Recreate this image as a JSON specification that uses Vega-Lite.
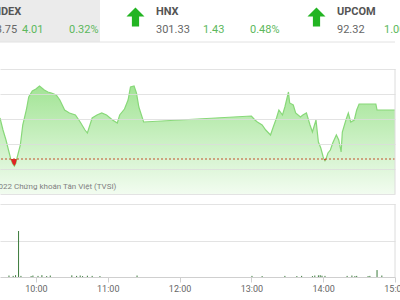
{
  "$schema": "https://vega.github.io/schema/vega-lite/v6.json",
  "width": 395,
  "height": 277,
  "autosize": {"type": "none"},
  "padding": {"left": 0, "top": 0, "right": 5, "bottom": 23},
  "background": "white",
  "config": {"view": {"stroke": null}, "font": "Roboto"},
  "datasets": {
    "quotes": [
      {"index": "VNINDEX", "value": "1,253.75", "change": "4.01", "pct": "0.32%"},
      {"index": "HNX", "value": "301.33", "change": "1.43", "pct": "0.48%"},
      {"index": "UPCOM", "value": "92.32", "change": "1.00", "pct": "1.10%"}
    ],
    "price": [
      {"time": "2022-01-05T09:30:00", "price": 1253.08},
      {"time": "2022-01-05T09:32:30", "price": 1252.12},
      {"time": "2022-01-05T09:35:00", "price": 1251.32},
      {"time": "2022-01-05T09:37:30", "price": 1250.36},
      {"time": "2022-01-05T09:39:00", "price": 1249.8},
      {"time": "2022-01-05T09:40:30", "price": 1249.45},
      {"time": "2022-01-05T09:42:00", "price": 1249.24},
      {"time": "2022-01-05T09:43:15", "price": 1249.45},
      {"time": "2022-01-05T09:44:00", "price": 1249.8},
      {"time": "2022-01-05T09:47:00", "price": 1250.92},
      {"time": "2022-01-05T09:49:00", "price": 1252.52},
      {"time": "2022-01-05T09:52:00", "price": 1253.72},
      {"time": "2022-01-05T09:54:00", "price": 1254.76},
      {"time": "2022-01-05T09:57:00", "price": 1255.24},
      {"time": "2022-01-05T10:00:00", "price": 1255.4},
      {"time": "2022-01-05T10:03:00", "price": 1255.64},
      {"time": "2022-01-05T10:07:00", "price": 1255.32},
      {"time": "2022-01-05T10:10:00", "price": 1255.16},
      {"time": "2022-01-05T10:13:00", "price": 1255.08},
      {"time": "2022-01-05T10:17:00", "price": 1254.92},
      {"time": "2022-01-05T10:20:00", "price": 1254.52},
      {"time": "2022-01-05T10:24:00", "price": 1253.72},
      {"time": "2022-01-05T10:28:00", "price": 1253.48},
      {"time": "2022-01-05T10:33:00", "price": 1253.32},
      {"time": "2022-01-05T10:37:00", "price": 1252.76},
      {"time": "2022-01-05T10:41:00", "price": 1252.12},
      {"time": "2022-01-05T10:43:00", "price": 1251.88},
      {"time": "2022-01-05T10:47:00", "price": 1253.08},
      {"time": "2022-01-05T10:51:00", "price": 1253.32},
      {"time": "2022-01-05T10:55:00", "price": 1253.48},
      {"time": "2022-01-05T10:59:00", "price": 1253.32},
      {"time": "2022-01-05T11:04:00", "price": 1252.92},
      {"time": "2022-01-05T11:08:00", "price": 1252.68},
      {"time": "2022-01-05T11:10:00", "price": 1253.32},
      {"time": "2022-01-05T11:14:00", "price": 1253.8},
      {"time": "2022-01-05T11:17:00", "price": 1254.52},
      {"time": "2022-01-05T11:19:00", "price": 1255.56},
      {"time": "2022-01-05T11:22:00", "price": 1255.64},
      {"time": "2022-01-05T11:24:00", "price": 1255.08},
      {"time": "2022-01-05T11:26:00", "price": 1253.96},
      {"time": "2022-01-05T11:30:00", "price": 1252.76},
      {"time": "2022-01-05T13:00:00", "price": 1253.24},
      {"time": "2022-01-05T13:03:00", "price": 1252.92},
      {"time": "2022-01-05T13:05:00", "price": 1252.76},
      {"time": "2022-01-05T13:09:00", "price": 1252.52},
      {"time": "2022-01-05T13:12:00", "price": 1252.12},
      {"time": "2022-01-05T13:16:00", "price": 1251.72},
      {"time": "2022-01-05T13:18:00", "price": 1252.28},
      {"time": "2022-01-05T13:21:00", "price": 1253.08},
      {"time": "2022-01-05T13:23:00", "price": 1253.72},
      {"time": "2022-01-05T13:26:00", "price": 1253.32},
      {"time": "2022-01-05T13:28:00", "price": 1253.96},
      {"time": "2022-01-05T13:31:00", "price": 1255.16},
      {"time": "2022-01-05T13:32:00", "price": 1254.28},
      {"time": "2022-01-05T13:35:00", "price": 1254.12},
      {"time": "2022-01-05T13:37:00", "price": 1253.48},
      {"time": "2022-01-05T13:41:00", "price": 1253.16},
      {"time": "2022-01-05T13:43:00", "price": 1253.32},
      {"time": "2022-01-05T13:46:00", "price": 1253.48},
      {"time": "2022-01-05T13:49:00", "price": 1252.52},
      {"time": "2022-01-05T13:51:00", "price": 1251.96},
      {"time": "2022-01-05T13:54:00", "price": 1252.92},
      {"time": "2022-01-05T13:56:00", "price": 1251.16},
      {"time": "2022-01-05T13:58:00", "price": 1250.68},
      {"time": "2022-01-05T14:00:00", "price": 1249.96},
      {"time": "2022-01-05T14:00:40", "price": 1249.8},
      {"time": "2022-01-05T14:01:30", "price": 1249.66},
      {"time": "2022-01-05T14:02:20", "price": 1249.8},
      {"time": "2022-01-05T14:04:00", "price": 1250.28},
      {"time": "2022-01-05T14:06:00", "price": 1250.52},
      {"time": "2022-01-05T14:08:00", "price": 1251.08},
      {"time": "2022-01-05T14:11:00", "price": 1251.72},
      {"time": "2022-01-05T14:13:00", "price": 1251.32},
      {"time": "2022-01-05T14:15:00", "price": 1250.36},
      {"time": "2022-01-05T14:16:00", "price": 1251.96},
      {"time": "2022-01-05T14:19:00", "price": 1252.92},
      {"time": "2022-01-05T14:21:00", "price": 1253.48},
      {"time": "2022-01-05T14:23:00", "price": 1252.76},
      {"time": "2022-01-05T14:26:00", "price": 1252.92},
      {"time": "2022-01-05T14:28:00", "price": 1253.72},
      {"time": "2022-01-05T14:30:00", "price": 1254.2},
      {"time": "2022-01-05T14:44:00", "price": 1254.2},
      {"time": "2022-01-05T14:45:00", "price": 1253.72},
      {"time": "2022-01-05T15:00:00", "price": 1253.72}
    ],
    "volume": [
      {"time": "2022-01-05T09:37:30", "vol": 40},
      {"time": "2022-01-05T09:41:00", "vol": 30},
      {"time": "2022-01-05T09:43:00", "vol": 50},
      {"time": "2022-01-05T09:45:30", "vol": 1260},
      {"time": "2022-01-05T09:47:30", "vol": 30},
      {"time": "2022-01-05T09:56:00", "vol": 25},
      {"time": "2022-01-05T09:57:30", "vol": 40},
      {"time": "2022-01-05T10:01:45", "vol": 30},
      {"time": "2022-01-05T10:05:00", "vol": 50},
      {"time": "2022-01-05T10:09:00", "vol": 25},
      {"time": "2022-01-05T10:12:00", "vol": 40},
      {"time": "2022-01-05T10:30:00", "vol": 45},
      {"time": "2022-01-05T10:34:00", "vol": 30},
      {"time": "2022-01-05T10:37:00", "vol": 40},
      {"time": "2022-01-05T10:39:00", "vol": 25},
      {"time": "2022-01-05T10:43:00", "vol": 35},
      {"time": "2022-01-05T10:47:00", "vol": 30},
      {"time": "2022-01-05T10:53:30", "vol": 25},
      {"time": "2022-01-05T11:24:30", "vol": 40},
      {"time": "2022-01-05T13:00:30", "vol": 30},
      {"time": "2022-01-05T13:09:00", "vol": 25},
      {"time": "2022-01-05T13:28:00", "vol": 30},
      {"time": "2022-01-05T13:38:00", "vol": 25},
      {"time": "2022-01-05T13:42:00", "vol": 30},
      {"time": "2022-01-05T13:51:00", "vol": 25},
      {"time": "2022-01-05T13:53:00", "vol": 40},
      {"time": "2022-01-05T13:56:00", "vol": 45},
      {"time": "2022-01-05T13:57:30", "vol": 50},
      {"time": "2022-01-05T13:59:00", "vol": 35},
      {"time": "2022-01-05T14:01:30", "vol": 30},
      {"time": "2022-01-05T14:20:00", "vol": 30},
      {"time": "2022-01-05T14:24:00", "vol": 40},
      {"time": "2022-01-05T14:26:30", "vol": 25},
      {"time": "2022-01-05T14:28:00", "vol": 30},
      {"time": "2022-01-05T14:37:30", "vol": 25},
      {"time": "2022-01-05T14:39:00", "vol": 30},
      {"time": "2022-01-05T14:45:00", "vol": 190},
      {"time": "2022-01-05T14:49:00", "vol": 40}
    ]
  },
  "layer": [
    {
      "data": {"name": "quotes"},
      "resolve": {"scale": {"x": "independent"}},
      "layer": [
        {
          "layer": [
            {
              "transform": [{"filter": "datum.index === 'VNINDEX'"}],
              "mark": {"type": "rect", "color": "#ebebeb"},
              "encoding": {
                "x": {"field": "index", "type": "nominal", "scale": {"domain": ["VNINDEX", "HNX", "UPCOM"], "range": [-81, 462], "paddingInner": 0, "paddingOuter": 0}, "axis": null},
                "y": {"datum": 0, "type": "quantitative", "scale": {"domain": [0, 1], "range": [42, 0], "nice": false}, "axis": null},
                "y2": {"datum": 1}
              }
            },
            {
              "data": {"values": [{}]},
              "mark": {"type": "rule", "color": "#e2e2e2"},
              "encoding": {"y": {"datum": 0, "type": "quantitative"}}
            },
            {
              "mark": {"type": "text", "align": "left", "baseline": "middle", "dx": 56, "fontSize": 11, "fontWeight": "bold", "color": "#555555"},
              "encoding": {
                "x": {"field": "index", "type": "nominal", "bandPosition": 0},
                "y": {"datum": 0.714, "type": "quantitative"},
                "text": {"field": "index"}
              }
            },
            {
              "mark": {"type": "text", "align": "left", "baseline": "middle", "dx": 56, "fontSize": 11, "color": "#666666"},
              "encoding": {
                "x": {"field": "index", "type": "nominal", "bandPosition": 0},
                "y": {"datum": 0.286, "type": "quantitative"},
                "text": {"field": "value"}
              }
            },
            {
              "mark": {"type": "text", "align": "left", "baseline": "middle", "dx": 103, "fontSize": 11, "color": "#5cb85c"},
              "encoding": {
                "x": {"field": "index", "type": "nominal", "bandPosition": 0},
                "y": {"datum": 0.286, "type": "quantitative"},
                "text": {"field": "change"}
              }
            },
            {
              "mark": {"type": "text", "align": "left", "baseline": "middle", "dx": 150, "fontSize": 11, "color": "#5cb85c"},
              "encoding": {
                "x": {"field": "index", "type": "nominal", "bandPosition": 0},
                "y": {"datum": 0.286, "type": "quantitative"},
                "text": {"field": "pct"}
              }
            }
          ]
        },
        {
          "mark": {"type": "point", "filled": true, "opacity": 1, "color": "#22b422", "size": 360, "shape": "M0,-1L0.95,-0.05L0.38,-0.05L0.38,1L-0.38,1L-0.38,-0.05L-0.95,-0.05Z"},
          "encoding": {
            "x": {"field": "index", "type": "nominal", "scale": {"domain": ["VNINDEX", "HNX", "UPCOM"], "range": [-136, 407], "paddingInner": 0, "paddingOuter": 0}, "axis": null},
            "y": {"datum": 0.595, "type": "quantitative"}
          }
        }
      ]
    },
    {
      "data": {"name": "price"},
      "layer": [
        {
          "mark": {"type": "area", "color": {"gradient": "linear", "x1": 0, "y1": 0, "x2": 0, "y2": 1, "stops": [{"offset": 0, "color": "#a2e495"}, {"offset": 1, "color": "#f2fcf0"}]}},
          "encoding": {
            "x": {"field": "time", "type": "temporal", "scale": {"domain": [{"year": 2022, "month": 1, "date": 5, "hours": 9, "minutes": 30}, {"year": 2022, "month": 1, "date": 5, "hours": 15}]}, "axis": null},
            "y": {"field": "price", "type": "quantitative", "scale": {"domain": [1247, 1257], "range": [194, 69], "zero": false, "nice": false}, "axis": {"orient": "left", "values": [1247, 1249, 1251, 1253, 1255, 1257], "grid": true, "gridColor": "#dcdcdc", "gridOpacity": 0.8, "labels": false, "ticks": false, "domain": false, "title": null, "zindex": 1}},
            "y2": {"datum": 1247}
          }
        },
        {
          "mark": {"type": "line", "color": "#88d879", "strokeWidth": 1.2},
          "encoding": {
            "x": {"field": "time", "type": "temporal"},
            "y": {"field": "price", "type": "quantitative"}
          }
        },
        {
          "transform": [{"filter": "datum.price <= 1249.8"}],
          "mark": {"type": "area", "color": "#e02424"},
          "encoding": {
            "x": {"field": "time", "type": "temporal"},
            "y": {"field": "price", "type": "quantitative"},
            "y2": {"datum": 1249.8}
          }
        },
        {
          "data": {"values": [{}]},
          "mark": {"type": "rule", "color": "#c0502a", "strokeDash": [2, 2], "strokeWidth": 1},
          "encoding": {"y": {"datum": 1249.8, "type": "quantitative"}}
        },
        {
          "data": {"values": [{}]},
          "mark": {"type": "rule", "color": "#dcdcdc"},
          "encoding": {
            "x": {"datum": {"year": 2022, "month": 1, "date": 5, "hours": 15}, "type": "temporal"},
            "y": {"datum": 1247, "type": "quantitative"},
            "y2": {"datum": 1257}
          }
        },
        {
          "data": {"values": [{}]},
          "mark": {"type": "text", "align": "left", "baseline": "middle", "dx": -6, "fontSize": 8, "color": "#808080"},
          "encoding": {
            "x": {"datum": {"year": 2022, "month": 1, "date": 5, "hours": 9, "minutes": 30}, "type": "temporal"},
            "y": {"datum": 1247.56, "type": "quantitative"},
            "text": {"value": "2022 Chứng khoán Tân Việt (TVSI)"}
          }
        }
      ]
    },
    {
      "data": {"name": "volume"},
      "layer": [
        {
          "mark": {"type": "rule", "color": "#3b7a3b", "strokeWidth": 1},
          "encoding": {
            "x": {"field": "time", "type": "temporal", "scale": {"domain": [{"year": 2022, "month": 1, "date": 5, "hours": 9, "minutes": 30}, {"year": 2022, "month": 1, "date": 5, "hours": 15}]}, "axis": {"orient": "bottom", "values": [{"year": 2022, "month": 1, "date": 5, "hours": 10}, {"year": 2022, "month": 1, "date": 5, "hours": 11}, {"year": 2022, "month": 1, "date": 5, "hours": 12}, {"year": 2022, "month": 1, "date": 5, "hours": 13}, {"year": 2022, "month": 1, "date": 5, "hours": 14}, {"year": 2022, "month": 1, "date": 5, "hours": 15}], "format": "%H:%M", "title": null, "grid": false, "domainColor": "#cfcfcf", "tickColor": "#cfcfcf", "tickSize": 5, "labelColor": "#666666", "labelFontSize": 9, "labelPadding": 2, "labelFlush": false, "labelOverlap": false}},
            "y": {"field": "vol", "type": "quantitative", "scale": {"domain": [0, 2000], "range": [277, 204], "nice": false}, "axis": {"orient": "left", "values": [1000, 2000], "grid": true, "gridColor": "#e3e3e3", "labels": false, "ticks": false, "domain": false, "title": null}},
            "y2": {"datum": 0}
          }
        },
        {
          "data": {"values": [{}]},
          "mark": {"type": "rule", "color": "#dcdcdc"},
          "encoding": {
            "x": {"datum": {"year": 2022, "month": 1, "date": 5, "hours": 15}, "type": "temporal"},
            "y": {"datum": 0, "type": "quantitative"},
            "y2": {"datum": 2000}
          }
        }
      ]
    }
  ],
  "resolve": {"scale": {"x": "independent", "y": "independent"}}
}
